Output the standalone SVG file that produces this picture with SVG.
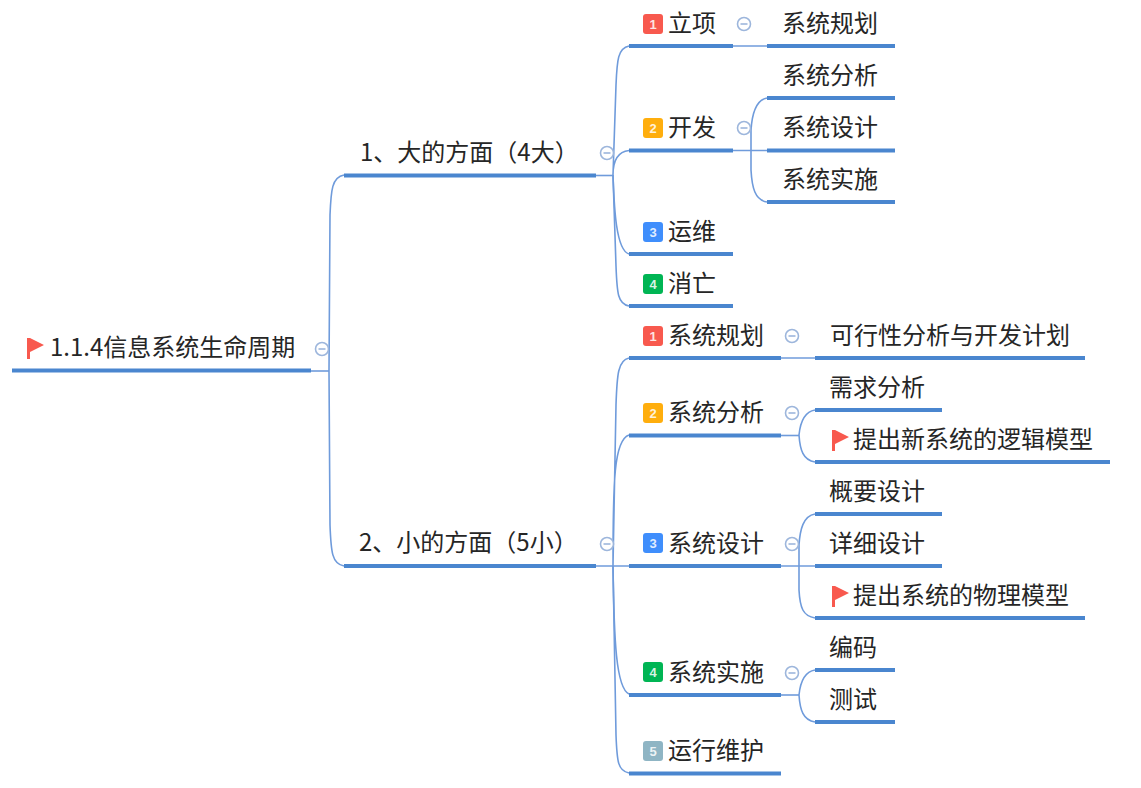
<svg xmlns="http://www.w3.org/2000/svg" width="1141" height="788" viewBox="0 0 1141 788">
<defs>
<style>
text{font-family:"Noto Sans CJK SC","Liberation Sans",sans-serif;font-size:24px;fill:#262626}
.b{font-family:"Liberation Sans",sans-serif;font-size:13px;font-weight:bold;fill:#fff;text-anchor:middle;fill-opacity:.85}
.u{stroke:#4a86cf;stroke-width:4;fill:none}
.c{stroke:#6f9bdb;stroke-width:1.6;fill:none}
.m{stroke:#9db6dc;stroke-width:1.6;fill:#fff}
.f{fill:#f8594e}
</style>
<g id="minus"><circle r="6.5" class="m"/><path d="M-3.5 0H3.5" class="m"/></g>
<path id="flag" d="M0 -10H3L17 -3L3 4V11H0Z" class="f"/>
</defs>
<g id="connectors">
<path class="c" d="M311 371H329"/>
<path class="c" d="M344 175C332 177 331 190 330 215L329 371L330 525C331 552 332 564 344 566"/>
<path class="c" d="M596 175.500H613"/>
<path class="c" d="M629 46C618 48 617 60 616 85L613 175C613 165 615 152 629 150.500"/>
<path class="c" d="M613 175L616 266C617 294 618 304 629 306"/>
<path class="c" d="M613 175C614 200 615 250 629 254" />
<path class="c" d="M733 46H767"/>
<path class="c" d="M733 150.500H767"/>
<path class="c" d="M767 98C755 100 752 115 751 130V170C752 188 755 200 767 202"/>
<path class="c" d="M596 566H629"/>
<path class="c" d="M629 358C618 360 617 375 616 405L613 566C613 480 614 440 629 435"/>
<path class="c" d="M613 566L616 735C617 762 618 771 629 773"/>
<path class="c" d="M613 566C614 640 616 688 629 694"/>
<path class="c" d="M781 358H815"/>
<path class="c" d="M781 435.500H799"/>
<path class="c" d="M815 410C803 412 800 425 799 435C800 450 803 460 815 462"/>
<path class="c" d="M781 566H815"/>
<path class="c" d="M815 514C803 516 800 530 799 545V590C800 608 803 616 815 618"/>
<path class="c" d="M781 695H799"/>
<path class="c" d="M815 670C803 672 800 685 799 695C800 710 803 720 815 722"/>
</g>
<g id="root"><path class="u" d="M12 370.500H311"/><use href="#flag" x="27" y="348"/><text x="50" y="356">1.1.4信息系统生命周期</text><use href="#minus" x="322" y="349"/></g>
<g id="big"><path class="u" d="M344 175.500H596"/><text x="360" y="161">1、大的方面（4大）</text><use href="#minus" x="607" y="153"/></g>
<g id="small"><path class="u" d="M344 566H596"/><text x="359" y="551">2、小的方面（5小）</text><use href="#minus" x="607" y="544"/></g>

<g id="a1"><path class="u" d="M629 46H733"/><rect x="643" y="14" width="20" height="20" rx="3" fill="#f8594e"/><text class="b" x="653" y="29">1</text><text x="668" y="32">立项</text><use href="#minus" x="744" y="24"/></g>
<g id="a2"><path class="u" d="M629 150.500H733"/><rect x="643" y="118" width="20" height="20" rx="3" fill="#ffae0d"/><text class="b" x="653" y="133">2</text><text x="668" y="136">开发</text><use href="#minus" x="744" y="128"/></g>
<g id="a3"><path class="u" d="M629 254H733"/><rect x="643" y="222" width="20" height="20" rx="3" fill="#3f8efc"/><text class="b" x="653" y="237">3</text><text x="668" y="240">运维</text></g>
<g id="a4"><path class="u" d="M629 306H733"/><rect x="643" y="274" width="20" height="20" rx="3" fill="#00b554"/><text class="b" x="653" y="289">4</text><text x="668" y="292">消亡</text></g>

<g id="a1a"><path class="u" d="M767 46H895"/><text x="782" y="32">系统规划</text></g>
<g id="a2a"><path class="u" d="M767 98H895"/><text x="782" y="84">系统分析</text></g>
<g id="a2b"><path class="u" d="M767 150.500H895"/><text x="782" y="136">系统设计</text></g>
<g id="a2c"><path class="u" d="M767 202H895"/><text x="782" y="188">系统实施</text></g>

<g id="b1"><path class="u" d="M629 358H781"/><rect x="643" y="326" width="20" height="20" rx="3" fill="#f8594e"/><text class="b" x="653" y="341">1</text><text x="668" y="344">系统规划</text><use href="#minus" x="792" y="336"/></g>
<g id="b2"><path class="u" d="M629 435.500H781"/><rect x="643" y="403" width="20" height="20" rx="3" fill="#ffae0d"/><text class="b" x="653" y="418">2</text><text x="668" y="421">系统分析</text><use href="#minus" x="792" y="413"/></g>
<g id="b3"><path class="u" d="M629 566H781"/><rect x="643" y="533" width="20" height="20" rx="3" fill="#3f8efc"/><text class="b" x="653" y="548">3</text><text x="668" y="552">系统设计</text><use href="#minus" x="792" y="544"/></g>
<g id="b4"><path class="u" d="M629 695H781"/><rect x="643" y="662" width="20" height="20" rx="3" fill="#00b554"/><text class="b" x="653" y="677">4</text><text x="668" y="681">系统实施</text><use href="#minus" x="792" y="673"/></g>
<g id="b5"><path class="u" d="M629 773.500H781"/><rect x="643" y="741" width="20" height="20" rx="3" fill="#8fb5c4"/><text class="b" x="653" y="756">5</text><text x="668" y="759">运行维护</text></g>

<g id="b1a"><path class="u" d="M815 358H1085"/><text x="830" y="344">可行性分析与开发计划</text></g>
<g id="b2a"><path class="u" d="M815 410H942"/><text x="829" y="396">需求分析</text></g>
<g id="b2b"><path class="u" d="M815 462H1110"/><use href="#flag" x="832" y="440"/><text x="853" y="448">提出新系统的逻辑模型</text></g>
<g id="b3a"><path class="u" d="M815 514H942"/><text x="829" y="500">概要设计</text></g>
<g id="b3b"><path class="u" d="M815 566H942"/><text x="829" y="552">详细设计</text></g>
<g id="b3c"><path class="u" d="M815 618H1085"/><use href="#flag" x="832" y="596"/><text x="853" y="604">提出系统的物理模型</text></g>
<g id="b4a"><path class="u" d="M815 670H895"/><text x="829" y="656">编码</text></g>
<g id="b4b"><path class="u" d="M815 722H895"/><text x="829" y="708">测试</text></g>
</svg>
